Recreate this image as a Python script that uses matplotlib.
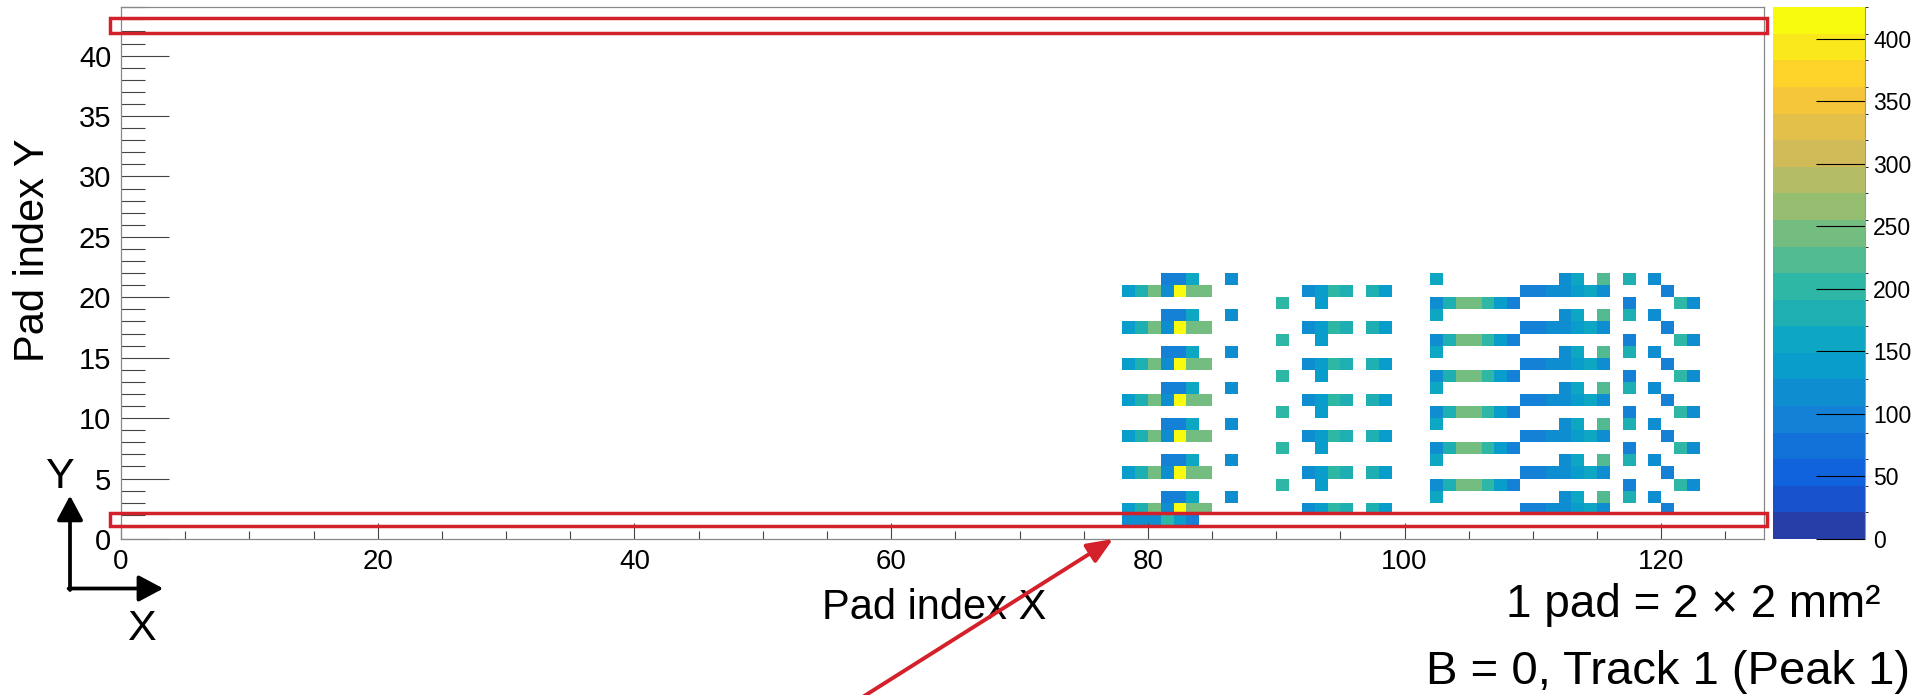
import numpy as np
import matplotlib
matplotlib.use('Agg')
import matplotlib.pyplot as plt
from matplotlib.colors import LinearSegmentedColormap, ListedColormap, BoundaryNorm
from matplotlib.patches import Rectangle, FancyArrowPatch

plt.rcParams['font.family'] = ['Liberation Sans', 'DejaVu Sans']

# ---------------- data ----------------
n_pads_x = 128
n_pads_y = 44

rows_A = [3, 6, 9, 12, 15, 18, 21]
cols_A = [81, 82, 83, 86, 102, 112, 113, 115, 117, 119]
vals_A = [96, 96, 159, 117, 159, 117, 159, 223, 181, 117]

rows_B = [2, 5, 8, 11, 14, 17, 20]
cols_B = [78, 79, 80, 81, 82, 83, 84, 92, 93, 94, 95, 97, 98,
          109, 110, 111, 112, 113, 114, 115, 120]
vals_B = [138, 181, 244, 117, 425, 244, 244, 117, 138, 202, 181, 181, 138,
          96, 96, 117, 117, 138, 159, 117, 96]

rows_C = [4, 7, 10, 13, 16, 19]
cols_C = [90, 93, 102, 103, 104, 105, 106, 107, 108, 117, 121, 122]
vals_C = [202, 138, 117, 181, 244, 244, 202, 138, 96, 96, 202, 117]

rows_D = [1]
cols_D = [78, 79, 80, 81, 82, 83]
vals_D = [117, 117, 117, 202, 138, 96]

x_ticks = [0, 20, 40, 60, 80, 100, 120]
y_ticks = [0, 5, 10, 15, 20, 25, 30, 35, 40]
cbar_ticks = [0, 50, 100, 150, 200, 250, 300, 350, 400]
n_contours = 20

# ---------------- grid ----------------
charge = np.zeros((n_pads_y, n_pads_x))
for rows, cols, vals in [(rows_A, cols_A, vals_A), (rows_B, cols_B, vals_B),
                         (rows_C, cols_C, vals_C), (rows_D, cols_D, vals_D)]:
    for r in rows:
        charge[r, cols] = vals
charge = np.ma.masked_equal(charge, 0)
zmax = charge.max()

# ROOT kBird palette
stops = np.linspace(0, 1, 9)
red = [0.2082, 0.0592, 0.0780, 0.0232, 0.1802, 0.5301, 0.8186, 0.9956, 0.9764]
green = [0.1664, 0.3599, 0.5041, 0.6419, 0.7178, 0.7492, 0.7328, 0.7862, 0.9832]
blue = [0.5293, 0.8684, 0.8385, 0.7914, 0.6425, 0.4662, 0.3499, 0.1968, 0.0539]
bird = LinearSegmentedColormap.from_list(
    'bird', list(zip(stops, zip(red, green, blue))), N=255)
band_cols = [bird(min((i + 0.99) / n_contours, 1.0)) for i in range(n_contours)]
cmap = ListedColormap(band_cols)
levels = np.linspace(0, zmax, n_contours + 1)
norm = BoundaryNorm(levels, n_contours)

# ---------------- figure ----------------
W, H = 1917, 695
fig = plt.figure(figsize=(W / 100, H / 100), dpi=100)

def fx(p):
    return p / W

def fy(p):
    return 1 - p / H

ax = fig.add_axes([fx(121), fy(539), fx(1764) - fx(121), fy(7.3) - fy(539)])
xe = np.arange(n_pads_x + 1)
ye = np.arange(n_pads_y + 1)
mesh = ax.pcolormesh(xe, ye, charge, cmap=cmap, norm=norm, edgecolors='none')
ax.set_xlim(0, n_pads_x)
ax.set_ylim(0, n_pads_y)

ax.set_xticks(x_ticks)
ax.set_xticks(np.arange(0, n_pads_x + 1, 5), minor=True)
ax.set_yticks(y_ticks)
ax.set_yticks(np.arange(0, n_pads_y + 1, 1), minor=True)
ax.tick_params(axis='x', which='major', direction='in', length=11.3, width=0.8,
               color='#444444', labelsize=20, pad=7, top=False)
ax.tick_params(axis='x', which='minor', direction='in', length=5.8, width=0.8,
               color='#444444', top=False)
ax.tick_params(axis='y', which='major', direction='in', length=34.6, width=0.8,
               color='#444444', labelsize=21, pad=7, right=False)
ax.tick_params(axis='y', which='minor', direction='in', length=17.3, width=0.8,
               color='#444444', right=False)
for s in ax.spines.values():
    s.set_color('#888888')
    s.set_linewidth(0.9)

# colorbar
cax = fig.add_axes([fx(1773), fy(539), fx(1865) - fx(1773), fy(7.3) - fy(539)])
cb = fig.colorbar(mesh, cax=cax, ticks=cbar_ticks, spacing='proportional')
cb.outline.set_visible(False)
cax.tick_params(direction='in', length=35, width=0.8, color='black',
                labelsize=16.5, pad=6, right=True, left=False)
cax.axvline(1, color='#999999', lw=0.8, clip_on=False)

# axis titles
fig.text(fx(934), fy(619), 'Pad index X', fontsize=30, ha='center', va='baseline')
fig.text(fx(33), fy(250), 'Pad index Y', fontsize=30, ha='center',
         va='center', rotation=90)

# annotation texts
fig.text(fx(1880), fy(617), '1 pad = 2 \u00d7 2 mm\u00b2', fontsize=33,
         ha='right', va='baseline')
fig.text(fx(1910), fy(684), 'B = 0, Track 1 (Peak 1)', fontsize=34,
         ha='right', va='baseline')

# coordinate system arrows
blk = dict(arrowstyle='-|>,head_length=0.75,head_width=0.4', mutation_scale=20,
           color='black', lw=2.7, shrinkA=0, shrinkB=0,
           transform=fig.transFigure)
fig.add_artist(FancyArrowPatch((fx(70), fy(590)), (fx(70), fy(495.6)), **blk))
fig.add_artist(FancyArrowPatch((fx(68.6), fy(588.5)), (fx(163.3), fy(588.5)), **blk))
fig.text(fx(60), fy(477), 'Y', fontsize=31, ha='center', va='center')
fig.text(fx(141), fy(629), 'X', fontsize=31, ha='center', va='center')

# red highlight boxes and arrow
red_c = '#d3202a'
for top, bot in [(18, 32.5), (512.5, 525.5)]:
    fig.add_artist(Rectangle((fx(110), fy(bot)), fx(1767) - fx(110), fy(top) - fy(bot),
                             transform=fig.transFigure, fill=False,
                             edgecolor=red_c, lw=2.5, zorder=6))
fig.add_artist(FancyArrowPatch((fx(850), fy(705)), (fx(1113), fy(539)),
                               arrowstyle='-|>,head_length=0.6,head_width=0.25',
                               mutation_scale=26, color=red_c, lw=2.8,
                               shrinkA=0, shrinkB=0, transform=fig.transFigure,
                               zorder=7))

fig.savefig('out.png', dpi=100)
